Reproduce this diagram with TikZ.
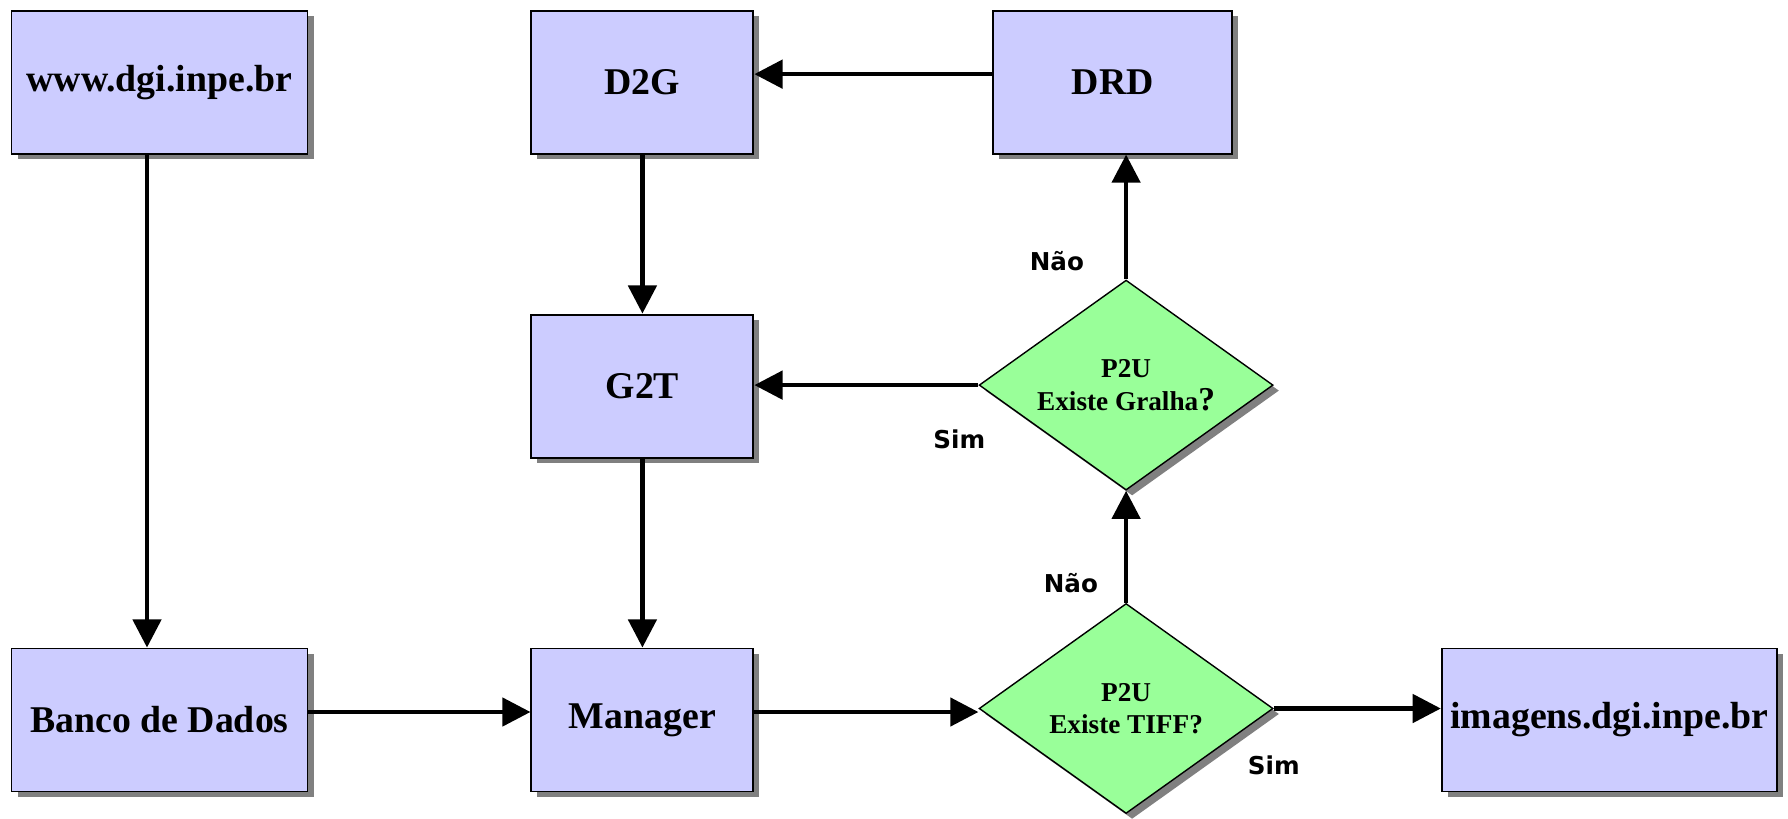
\documentclass[tikz,border=0pt]{standalone}
\usepackage{fontspec}
\setmainfont{Liberation Serif}
\newfontfamily\answerfont{DejaVu Sans}
\usetikzlibrary{arrows.meta, positioning, shapes.geometric, shadows}
\definecolor{LightLilac}{rgb}{0.8, 0.8, 1}
\definecolor{LightGreen}{rgb}{0.6, 1, 0.6}
\definecolor{ShadowGray}{rgb}{0.5, 0.5, 0.5}

\begin{document}
\begin{tikzpicture}[
    module/.style={draw=black, line width=1.1pt, fill=LightLilac,
        minimum height=2.86cm, inner sep=0pt,
        font=\fontsize{21.5}{25}\selectfont\bfseries,
        drop shadow={shadow xshift=0.12cm, shadow yshift=-0.11cm,
            fill=ShadowGray, opacity=1}},
    decision/.style={diamond, aspect=1.4, draw=black, line width=0.8pt,
        fill=LightGreen, minimum width=5.88cm, minimum height=4.2cm,
        inner sep=0pt, align=center,
        font=\fontsize{15.5}{18.5}\selectfont\bfseries,
        drop shadow={shadow xshift=0.12cm, shadow yshift=-0.11cm,
            fill=ShadowGray, opacity=1}},
    flow/.style={-{Triangle[length=16pt, width=16pt]}, line width=2.5pt},
    answer/.style={font=\answerfont\fontsize{14}{16}\selectfont\bfseries,
        inner sep=0pt},
]
\useasboundingbox (0,0) rectangle (35.76,-16.36);

% linha de baixo
\node[module, minimum width=5.92cm] (banco) at (3.19,-14.40) {Banco de Dados};
\node[module, minimum width=4.44cm, right=4.44cm of banco] (manager) {Manager};
\node[decision, right=4.48cm of manager, yshift=0.23cm] (tiff)
    {P2U\\Existe TIFF?};
\node[module, minimum width=6.7cm, right=3.34cm of tiff, yshift=-0.23cm]
    (imagens) {imagens.dgi.inpe.br};

% colunas de cima
\node[module, minimum width=5.92cm, above=9.86cm of banco] (www) {www.dgi.inpe.br};
\node[module, minimum width=4.44cm, above=3.78cm of manager] (g2t) {G2T};
\node[module, minimum width=4.44cm, above=3.18cm of g2t] (d2g) {D2G};
\node[module, minimum width=4.78cm, right=4.76cm of d2g] (drd) {DRD};
\node[decision, above=2.24cm of tiff] (gralha)
    {P2U\\Existe Gralha{\fontsize{19}{19}\selectfont ?}};

% fluxo
\draw[flow] ([xshift=-0.25cm]www.south) -- ([xshift=-0.25cm]banco.north);
\draw[flow] ([yshift=0.16cm]banco.east) -- ([yshift=0.16cm]manager.west);
\draw[flow] ([yshift=0.16cm]manager.east) -- ([yshift=0.16cm]manager.east -| tiff.west);
\draw[flow] (d2g) -- (g2t);
\draw[flow] (g2t) -- (manager);
\draw[flow] ([yshift=0.16cm]drd.west) -- ([yshift=0.16cm]d2g.east);

% respostas
\draw[flow] (tiff.east) -- (tiff.east -| imagens.west)
    node[answer, pos=0, below=0.91cm] (simtiff) {Sim};
\draw[flow] (tiff.north) -- (gralha.south)
    node[answer, pos=0.18, left=0.52cm] (naotiff) {Não};
\draw[flow] (gralha.west) -- (gralha.west -| g2t.east)
    node[answer, pos=0.085, below=0.85cm] (simgralha) {Sim};
\draw[flow] (gralha.north) -- (gralha.north |- drd.south)
    node[answer, pos=0.15, left=0.8cm] (naogralha) {Não};

\end{tikzpicture}
\end{document}
